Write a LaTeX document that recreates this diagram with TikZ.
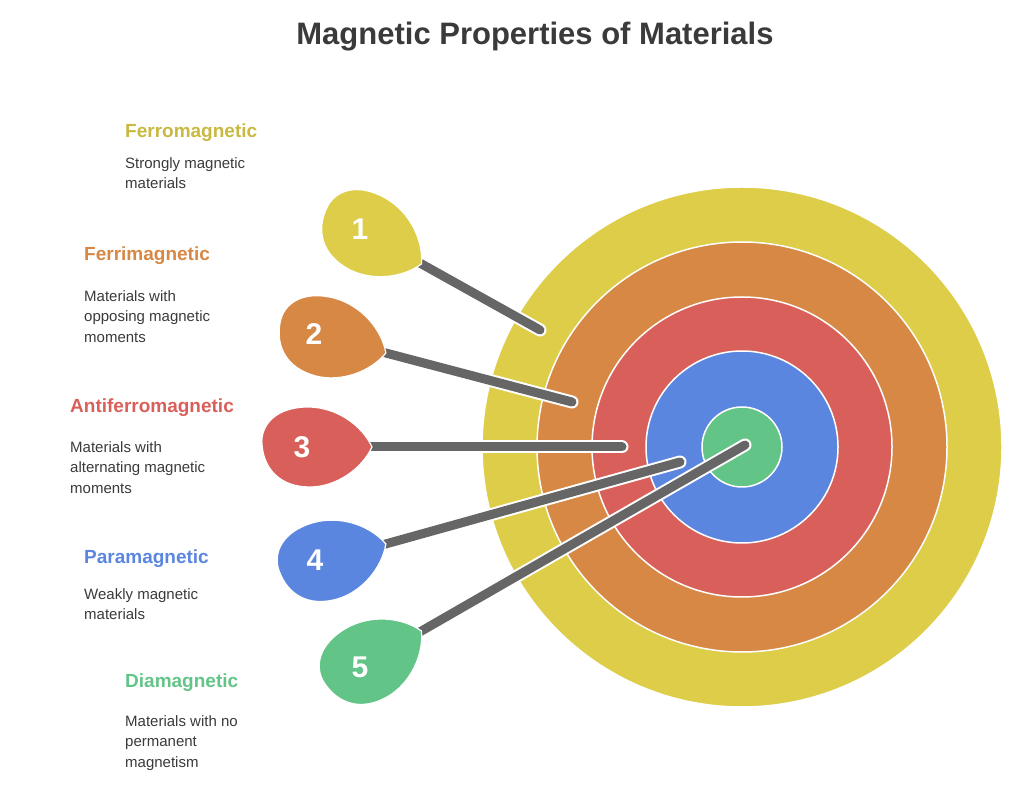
\documentclass[tikz,border=0pt]{standalone}
\usepackage{fontspec}
\setmainfont{Liberation Sans}
\definecolor{cy}{HTML}{DDCD48}
\definecolor{co}{HTML}{D68844}
\definecolor{cr}{HTML}{D9605A}
\definecolor{cb}{HTML}{5B86E0}
\definecolor{cg}{HTML}{63C488}
\definecolor{rod}{HTML}{666666}
\definecolor{txt}{HTML}{3A3A3A}
\begin{document}
\begin{tikzpicture}[x=1pt,y=1pt,
  ring/.style={draw=white,line width=1.5pt},
  title/.style={font=\bfseries\fontsize{31}{36}\selectfont,text=txt},
  lab/.style={anchor=west,font=\bfseries\fontsize{19}{22}\selectfont,inner sep=0pt},
  desc/.style={anchor=north west,align=left,font=\fontsize{15}{20.5}\selectfont,text=txt,inner sep=0pt},
  num/.style={text=white,font=\bfseries\fontsize{30}{30}\selectfont}]
\useasboundingbox (0,0) rectangle (1024,803);
\node[title] (t) at (535,766) {Magnetic Properties of Materials};
% target
\coordinate (c) at (742,356);
\fill[cy,ring] (c) circle (260);
\fill[co,ring] (c) circle (205);
\fill[cr,ring] (c) circle (150);
\fill[cb,ring] (c) circle (96);
\fill[cg,ring] (c) circle (40);
% darts
\def\dart#1#2#3#4#5{%
  \coordinate (tip#5) at #1; \coordinate (end#5) at #2;
  \draw[white,line width=13pt,line cap=round] (tip#5) -- (end#5);
  \draw[rod,line width=9pt,line cap=round] (tip#5) -- (end#5);
  \begin{scope}[shift={#1},rotate=#3]
    \fill[#4,draw=white,line width=1.2pt] (4,0) .. controls (-6,22) and (-32,40) .. (-60,40)
      .. controls (-92,40) and (-108,22) .. (-106,2)
      .. controls (-104,-22) and (-88,-40) .. (-58,-40)
      .. controls (-32,-40) and (-6,-22) .. (4,0) -- cycle;
  \end{scope}}
\dart{(418,541)}{(540,473)}{-29.1}{cy}{1}
\dart{(382,451)}{(572,401)}{-14.7}{co}{2}
\dart{(368,356)}{(622,356)}{0}{cr}{3}
\dart{(382,258)}{(680,341)}{15.6}{cb}{4}
\dart{(418,170)}{(745,358)}{29.9}{cg}{5}
\node[num] (n1) at (360,574) {1};
\node[num] (n2) at (314,469) {2};
\node[num] (n3) at (302,356) {3};
\node[num] (n4) at (315,243) {4};
\node[num] (n5) at (360,136) {5};
% labels
\node[lab,text=cy!90!black] (l1) at (125,670) {Ferromagnetic};
\node[desc] (d1) at (125,646) {Strongly magnetic\\materials};
\node[lab,text=co] (l2) at (84,547) {Ferrimagnetic};
\node[desc] (d2) at (84,513) {Materials with\\opposing magnetic\\moments};
\node[lab,text=cr] (l3) at (70,395) {Antiferromagnetic};
\node[desc] (d3) at (70,362) {Materials with\\alternating magnetic\\moments};
\node[lab,text=cb] (l4) at (84,244) {Paramagnetic};
\node[desc] (d4) at (84,215) {Weakly magnetic\\materials};
\node[lab,text=cg] (l5) at (125,120) {Diamagnetic};
\node[desc] (d5) at (125,88) {Materials with no\\permanent\\magnetism};
\end{tikzpicture}
\end{document}
